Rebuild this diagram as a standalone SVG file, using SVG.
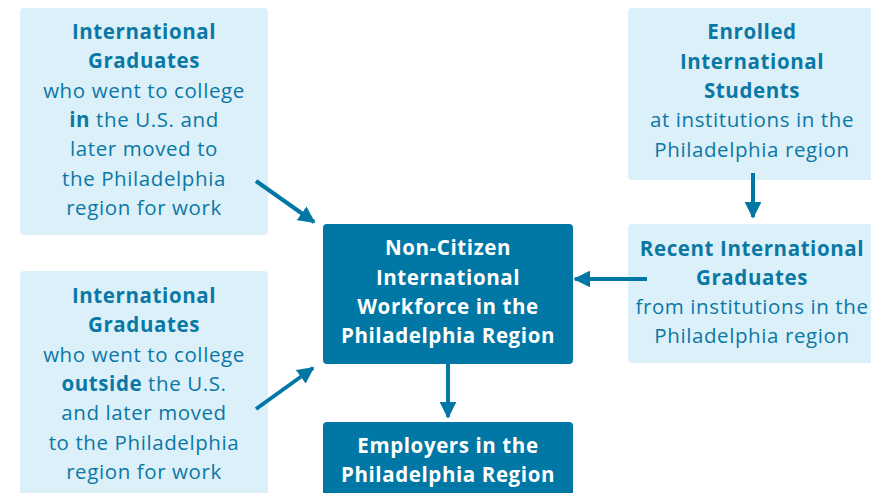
<svg xmlns="http://www.w3.org/2000/svg" width="871" height="493" viewBox="0 0 871 493">
<style>
.lb{fill:#dcf0fa}
.db{fill:#0077a4}
text{font-family:"Open Sans","Liberation Sans",sans-serif;font-size:20.5px;letter-spacing:0.6px;text-anchor:middle}
.t{fill:#0a78a5}
.b{font-weight:bold}
.w{fill:#ffffff;font-weight:bold}
.c{stroke:#0077a4;stroke-width:4;fill:none}
</style>
<defs>
<marker id="ah" viewBox="0 0 10 10" refX="9" refY="5" markerWidth="4.2" markerHeight="4.2" markerUnits="strokeWidth" orient="auto">
<path d="M0,0 L10,5 L0,10 z" fill="#0077a4"/>
</marker>
</defs>
<g id="n-intl-in">
<rect class="lb" x="20" y="8" width="248" height="227" rx="4"/>
<text class="t b" x="144" y="39">International</text>
<text class="t b" x="144" y="68">Graduates</text>
<text class="t" x="144" y="98">who went to college</text>
<text class="t" x="144" y="127"><tspan class="b">in</tspan> the U.S. and</text>
<text class="t" x="144" y="156">later moved to</text>
<text class="t" x="144" y="186">the Philadelphia</text>
<text class="t" x="144" y="215">region for work</text>
</g>
<g id="n-intl-out">
<rect class="lb" x="20" y="271" width="248" height="230" rx="4"/>
<text class="t b" x="144" y="303">International</text>
<text class="t b" x="144" y="332">Graduates</text>
<text class="t" x="144" y="362">who went to college</text>
<text class="t" x="144" y="391"><tspan class="b">outside</tspan> the U.S.</text>
<text class="t" x="144" y="420">and later moved</text>
<text class="t" x="144" y="450">to the Philadelphia</text>
<text class="t" x="144" y="479">region for work</text>
</g>
<g id="n-enrolled">
<rect class="lb" x="628" y="8" width="250" height="172" rx="4"/>
<text class="t b" x="752" y="39">Enrolled</text>
<text class="t b" x="752" y="69">International</text>
<text class="t b" x="752" y="98">Students</text>
<text class="t" x="752" y="127">at institutions in the</text>
<text class="t" x="752" y="157">Philadelphia region</text>
</g>
<g id="n-recent">
<rect class="lb" x="628" y="224" width="250" height="139" rx="4"/>
<text class="t b" x="752" y="256">Recent International</text>
<text class="t b" x="752" y="285">Graduates</text>
<text class="t" x="752" y="314">from institutions in the</text>
<text class="t" x="752" y="343">Philadelphia region</text>
</g>
<g id="n-workforce">
<rect class="db" x="323" y="224" width="250" height="140" rx="4"/>
<text class="w" x="448" y="255">Non-Citizen</text>
<text class="w" x="448" y="285">International</text>
<text class="w" x="448" y="314">Workforce in the</text>
<text class="w" x="448" y="343">Philadelphia Region</text>
</g>
<g id="n-employers">
<rect class="db" x="323" y="422" width="250" height="80" rx="4"/>
<text class="w" x="448" y="453">Employers in the</text>
<text class="w" x="448" y="482">Philadelphia Region</text>
</g>
<g id="connectors">
<line class="c" x1="256" y1="181" x2="314" y2="222" marker-end="url(#ah)"/>
<line class="c" x1="256" y1="409" x2="313" y2="368" marker-end="url(#ah)"/>
<line class="c" x1="647" y1="279" x2="575" y2="279" marker-end="url(#ah)"/>
<line class="c" x1="753" y1="173" x2="753" y2="217" marker-end="url(#ah)"/>
<line class="c" x1="448" y1="364" x2="448" y2="417" marker-end="url(#ah)"/>
</g>
</svg>
